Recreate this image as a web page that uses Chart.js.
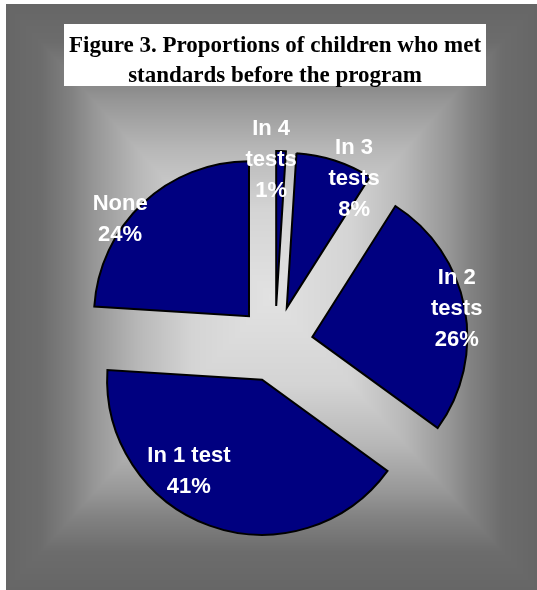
<!DOCTYPE html>
<html>
<head>
<meta charset="utf-8">
<title>Figure 3</title>
<script src="https://cdn.jsdelivr.net/npm/chart.js@4/dist/chart.umd.min.js"></script>
<style>
  html, body { margin: 0; padding: 0; background: #fff; overflow: hidden; }
  canvas { display: block; }
</style>
</head>
<body>
<canvas id="pie" width="537" height="590"></canvas>
<script>
// Children grouped by how many of the four tests they met before the program
const categories = ['In 4 tests', 'In 3 tests', 'In 2 tests', 'In 1 test', 'None']
const shares = [1, 8, 26, 41, 24]
const titleLines = ['Figure 3. Proportions of children who met', 'standards before the program']

// where each data label sits: distance from the pie centre and a turn (degrees) off the slice middle
const labelDistance = [184, 183, 185, 154, 199]
const labelTurn = [-3, 7.6, 0, 14.2, -7.9]

const EXPLODE = 38
const LABEL_LINE = 31

// Pull every slice outwards along its middle angle without growing its radius
const baseArcDraw = Chart.ArcElement.prototype.draw
Chart.ArcElement.prototype.draw = function (ctx) {
  const mid = (this.startAngle + this.endAngle) / 2
  ctx.save()
  ctx.translate(Math.cos(mid) * EXPLODE, Math.sin(mid) * EXPLODE)
  baseArcDraw.call(this, ctx)
  ctx.restore()
}

/**
 * Paints a rectangular "from centre" grey shading into an offscreen canvas.
 */
const makeBackdrop = (w, h) => {
  const stops = [[0, 0xe2], [0.3, 0xd4], [0.5, 0xb8], [0.67, 0x96], [0.75, 0x82], [0.87, 0x6c], [1, 0x66]]
  const shade = (t) => {
    for (let i = 1; i < stops.length; i++) {
      if (t <= stops[i][0]) {
        const [t0, v0] = stops[i - 1]
        const [t1, v1] = stops[i]
        return v0 + (v1 - v0) * (t - t0) / (t1 - t0)
      }
    }
    return stops[stops.length - 1][1]
  }
  const off = document.createElement('canvas')
  off.width = w
  off.height = h
  const octx = off.getContext('2d')
  const img = octx.createImageData(w, h)
  const hw = w / 2
  const hh = h / 2
  for (let y = 0; y < h; y++) {
    for (let x = 0; x < w; x++) {
      const t = Math.max(Math.abs(x + 0.5 - hw) / hw, Math.abs(y + 0.5 - hh) / hh)
      const v = Math.round(shade(t))
      const k = (y * w + x) * 4
      img.data[k] = v
      img.data[k + 1] = v
      img.data[k + 2] = v
      img.data[k + 3] = 255
    }
  }
  octx.putImageData(img, 0, 0)
  return off
}

const backdrop = makeBackdrop(531, 586)

const background = {
  id: 'background',
  beforeDraw (chart) {
    const { ctx } = chart
    ctx.save()
    ctx.fillStyle = '#fff'
    ctx.fillRect(0, 0, chart.width, chart.height)
    ctx.drawImage(backdrop, 6, 4)
    // white box behind the title
    ctx.fillStyle = '#fff'
    ctx.fillRect(64, 24, 422, 62)
    ctx.restore()
  }
}

const wrapWords = (ctx, text, maxWidth) => {
  const lines = []
  let line = ''
  text.split(' ').forEach((word) => {
    const next = line ? line + ' ' + word : word
    if (line && ctx.measureText(next).width > maxWidth) {
      lines.push(line)
      line = word
    } else {
      line = next
    }
  })
  lines.push(line)
  return lines
}

const sliceLabels = {
  id: 'sliceLabels',
  afterDatasetsDraw (chart) {
    const { ctx } = chart
    const arcs = chart.getDatasetMeta(0).data
    ctx.save()
    ctx.font = 'bold 22px "Liberation Sans", Arial, sans-serif'
    ctx.fillStyle = '#fff'
    ctx.textAlign = 'center'
    ctx.textBaseline = 'middle'
    arcs.forEach((arc, i) => {
      const angle = (arc.startAngle + arc.endAngle) / 2 + labelTurn[i] * Math.PI / 180
      const x = arc.x + Math.cos(angle) * labelDistance[i]
      const y = arc.y + Math.sin(angle) * labelDistance[i]
      const lines = wrapWords(ctx, chart.data.labels[i], 90).concat(`${shares[i]}%`)
      const top = y - (lines.length - 1) * LABEL_LINE / 2
      lines.forEach((line, j) => ctx.fillText(line, x, top + j * LABEL_LINE))
    })
    ctx.restore()
  }
}

new Chart(document.getElementById('pie'), {
  type: 'pie',
  data: {
    labels: categories,
    datasets: [{
      data: shares,
      backgroundColor: '#000080',
      borderColor: '#000',
      borderWidth: 2,
      borderJoinStyle: 'miter'
    }]
  },
  options: {
    responsive: false,
    animation: false,
    radius: 155,
    layout: {
      padding: { left: 13, right: 0, top: 0, bottom: 0 }
    },
    plugins: {
      legend: { display: false },
      tooltip: { enabled: false },
      title: {
        display: true,
        text: titleLines,
        color: '#000',
        font: {
          family: '"Liberation Serif", "Times New Roman", serif',
          size: 23,
          weight: 'bold',
          lineHeight: 30 / 23
        },
        padding: { top: 31, bottom: 7 }
      }
    }
  },
  plugins: [background, sliceLabels]
})
</script>
</body>
</html>
